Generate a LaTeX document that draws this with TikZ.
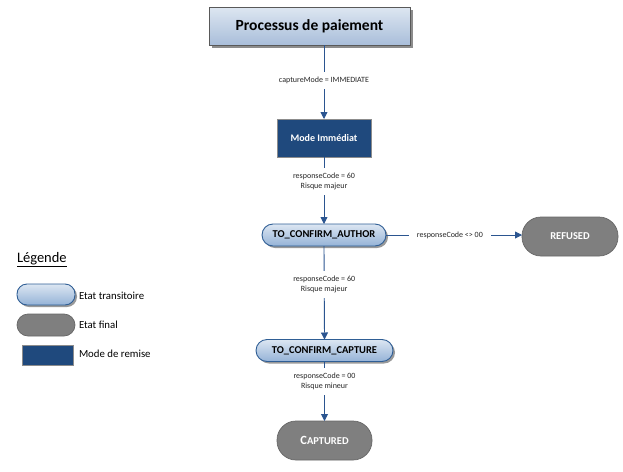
\documentclass[tikz,border=0pt]{standalone}
\usepackage{fontspec}
\setmainfont{Carlito}
\usetikzlibrary{arrows.meta,shadows}

\definecolor{remise}{HTML}{1F497D}
\definecolor{trait}{HTML}{2B5590}
\definecolor{bordpill}{HTML}{2F5E95}
\definecolor{finalgris}{HTML}{7F7F7F}
\definecolor{hautbleu}{HTML}{DCE6F2}
\definecolor{basbleu}{HTML}{95B3D7}
\definecolor{hauttitre}{HTML}{DDE6F1}
\definecolor{bastitre}{HTML}{A9BEDA}

\begin{document}
\begin{tikzpicture}[x=1pt,y=-1pt,
  every node/.style={outer sep=0pt, inner sep=0pt},
  titre/.style={draw=black!65, line width=0.9pt, top color=hauttitre, bottom color=bastitre,
    minimum width=201pt, minimum height=38pt, font=\fontsize{15.5}{17}\selectfont\bfseries,
    drop shadow={shadow xshift=2.5pt, shadow yshift=-2.5pt, fill=black!45, opacity=1}},
  remisebox/.style={draw=black!45, line width=0.8pt, fill=remise, text=white,
    minimum width=94pt, minimum height=38pt, font=\fontsize{10}{12}\selectfont\bfseries},
  transit/.style={draw=bordpill, line width=0.9pt, rounded corners=11pt,
    top color=hautbleu, bottom color=basbleu,
    minimum height=22pt, font=\fontsize{10.5}{12}\selectfont\bfseries,
    drop shadow={shadow xshift=2pt, shadow yshift=-2pt, fill=black!40, opacity=1}},
  final/.style={draw=black!60, line width=0.7pt, fill=finalgris, text=white, rounded corners=19pt,
    minimum height=39pt, font=\fontsize{10.5}{12}\selectfont\bfseries},
  fleche/.style={draw=trait, line width=0.9pt, -{Triangle[length=7pt,width=7pt]}},
  etiq/.style={fill=white, inner xsep=8pt, inner ysep=5pt, align=center,
    font=\fontsize{8}{10}\selectfont, text=black!85},
  legtexte/.style={anchor=west, font=\fontsize{10.8}{12}\selectfont}]

\useasboundingbox (0,0) rectangle (623,471);

% diagramme principal
\node[titre] (processus) at (309.5,26) {Processus de paiement};
\node[remisebox] (immediat) at (324,138) {Mode Immédiat};
\node[transit, minimum width=124pt] (author) at (324,235) {TO\_CONFIRM\_AUTHOR};
\node[final, minimum width=96pt] (refused) at (570,236.5) {REFUSED};
\node[transit, minimum width=137pt] (capture) at (324.5,350.5) {TO\_CONFIRM\_CAPTURE};
\node[final, minimum width=95pt] (captured) at (324.5,440.5) {{\fontsize{12.5}{14}\selectfont C}APTURED};

\draw[fleche] (processus.south -| immediat.north) -- node[etiq, pos=0.48] {captureMode = IMMEDIATE} (immediat.north);
\draw[fleche] (immediat.south) -- node[etiq, pos=0.37] {responseCode = 60\\Risque majeur} (author.north);
\draw[fleche] (author.east) -- node[etiq, pos=0.47] {responseCode <> 00} (refused.west |- author.east);
\draw[fleche] (author.south) -- node[etiq, pos=0.41] {responseCode = 60\\Risque majeur} (capture.north);
\draw[fleche] (capture.south) -- node[etiq, pos=0.34] {responseCode = 00\\Risque mineur} (captured.north);

% legende
\node[anchor=west, font=\fontsize{14.5}{16}\selectfont] (legende) at (17,260) {\underline{Légende}};
\node[transit, minimum width=58pt, minimum height=21pt, rounded corners=10pt] (legtransit) at (46,294.5) {};
\node[final, minimum width=58pt, minimum height=22pt, rounded corners=11pt] (legfinal) at (46,325) {};
\node[remisebox, minimum width=51pt, minimum height=20pt] (legremise) at (47.5,355) {};
\node[legtexte] (txttransit) at (79,296) {Etat transitoire};
\node[legtexte] (txtfinal) at (79,325) {Etat final};
\node[legtexte] (txtremise) at (79,354) {Mode de remise};
\end{tikzpicture}
\end{document}
